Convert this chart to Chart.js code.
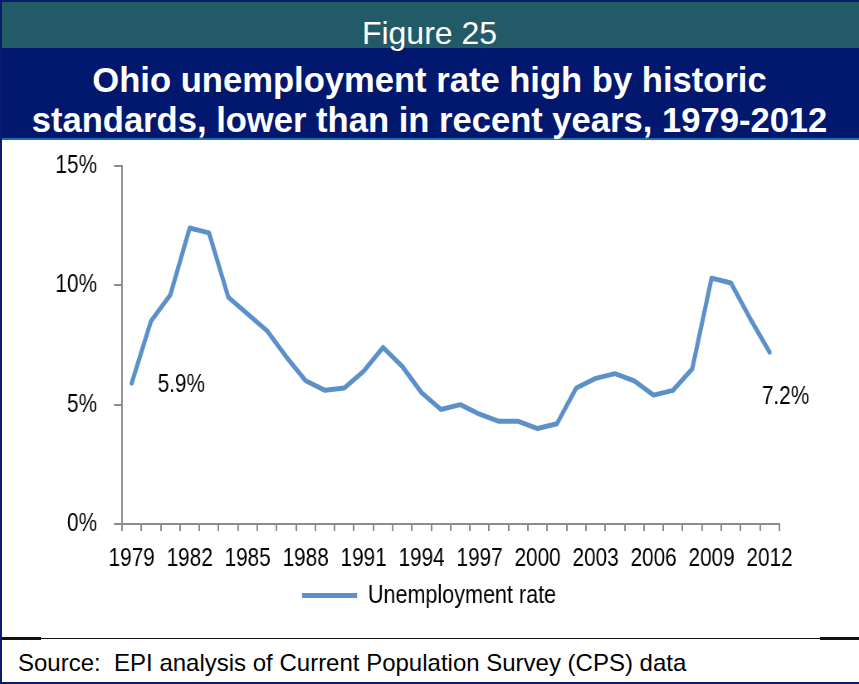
<!DOCTYPE html>
<html>
<head>
<meta charset="utf-8">
<script src="https://cdn.jsdelivr.net/npm/chart.js@4"></script>
<style>
  body { margin: 0; background: #fff; }
  #page { position: relative; width: 859px; height: 684px; overflow: hidden; background: #fff; font-family: 'Liberation Sans', Arial, sans-serif; }
  .band { position: absolute; left: 0; width: 859px; }
  #topLine { top: 0; height: 2px; background: #0b1c6e; }
  #teal { top: 2px; height: 46px; background: #225a67; }
  #navy { top: 48px; height: 90px; background: #02186f; }
  #blueLine { top: 138px; height: 2px; background: #1f6cb2; }
  #leftLine { position: absolute; left: 0; top: 0; width: 2px; height: 684px; background: #0b1c6e; }
  #bottomLine { top: 682px; height: 2px; background: #0b1c6e; }
  #sep { top: 638px; height: 1px; background: #111; }
  #sepL { position: absolute; left: 0; top: 637px; width: 41px; height: 3px; background: #111; }
  #sepR { position: absolute; left: 820px; top: 637px; width: 39px; height: 3px; background: #111; }
  .txt { position: absolute; left: 0; width: 859px; text-align: center; color: #fff; white-space: nowrap; }
  #fig { top: 17px; font-size: 32px; line-height: 32px; }
  #t1 { top: 63px; font-size: 34.6px; line-height: 34.6px; font-weight: bold; }
  #t2 { top: 103px; font-size: 34.6px; line-height: 34.6px; font-weight: bold; }
  #source { position: absolute; left: 18px; top: 651px; font-size: 24px; line-height: 24px; color: #000; white-space: nowrap; }
  /* the chart in the original is squeezed sideways, so the canvas is drawn wider and scaled back */
  #chartBox { position: absolute; left: 0; top: 140px; height: 496px; transform-origin: 0 0; }
</style>
</head>
<body>
<div id="page">
  <div class="band" id="topLine"></div>
  <div class="band" id="teal"></div>
  <div class="band" id="navy"></div>
  <div class="band" id="blueLine"></div>
  <div class="txt" id="fig">Figure 25</div>
  <div class="txt" id="t1">Ohio unemployment rate high by historic</div>
  <div class="txt" id="t2">standards, lower than in recent years, 1979-2012</div>
  <div id="chartBox"><canvas id="lineChart"></canvas></div>
  <div class="band" id="sep"></div>
  <div id="sepL"></div>
  <div id="sepR"></div>
  <div id="source">Source:&nbsp; EPI analysis of Current Population Survey (CPS) data</div>
  <div class="band" id="bottomLine"></div>
  <div id="leftLine"></div>
</div>
<script>
const years = ['1979', '1980', '1981', '1982', '1983', '1984', '1985', '1986', '1987', '1988', '1989', '1990',
    '1991', '1992', '1993', '1994', '1995', '1996', '1997', '1998', '1999', '2000', '2001', '2002',
    '2003', '2004', '2005', '2006', '2007', '2008', '2009', '2010', '2011', '2012'];
const rate = [5.9, 8.5, 9.6, 12.4, 12.2, 9.5, 8.8, 8.1, 7.0, 6.0, 5.6, 5.7,
    6.4, 7.4, 6.6, 5.5, 4.8, 5.0, 4.6, 4.3, 4.3, 4.0, 4.2, 5.7,
    6.1, 6.3, 6.0, 5.4, 5.6, 6.5, 10.3, 10.1, 8.6, 7.2];
const shownYears = ['1979', '1982', '1985', '1988', '1991', '1994', '1997', '2000', '2003', '2006', '2009', '2012'];
const yTicks = [0, 5, 10, 15];

const squeeze = 0.83;
const canvasW = 859 / squeeze;
const canvasH = 496;
const font = "'Liberation Sans', Arial, sans-serif";
const axisGray = '#8c8c8c';

const box = document.getElementById('chartBox');
box.style.width = canvasW + 'px';
box.style.transform = 'scaleX(' + squeeze + ')';
const canvas = document.getElementById('lineChart');
canvas.width = canvasW;
canvas.height = canvasH;

//writes the first and last values next to the line
const endLabels = {
    id: 'endLabels',
    afterDatasetsDraw(chart) {
        const pts = chart.getDatasetMeta(0).data;
        const last = pts.length - 1;
        const ctx = chart.ctx;
        ctx.save();
        ctx.font = '25px ' + font;
        ctx.fillStyle = '#000';
        ctx.textBaseline = 'middle';
        ctx.textAlign = 'left';
        ctx.fillText(rate[0].toFixed(1) + '%', pts[0].x + 26 / squeeze, pts[0].y + 2);
        ctx.textAlign = 'center';
        ctx.fillText(rate[last].toFixed(1) + '%', pts[last].x + 16 / squeeze, pts[last].y + 45);
        ctx.restore();
    }
};

new Chart(canvas, {
    type: 'line',
    data: {
        labels: years,
        datasets: [{
            label: 'Unemployment rate',
            data: rate,
            borderColor: '#5b90c8',
            backgroundColor: '#5b90c8',
            borderWidth: 5,
            borderCapStyle: 'round',
            borderJoinStyle: 'round',
            pointRadius: 0,
            tension: 0,
            fill: false
        }]
    },
    options: {
        responsive: false,
        animation: false,
        layout: {
            padding: { top: 26, right: 0, left: 0, bottom: 17.5 }
        },
        scales: {
            x: {
                offset: true,
                afterFit: scale => {
                    scale.height = 48.5;
                    scale.paddingLeft = 0;
                    scale.paddingRight = 0;
                },
                border: { display: true, color: axisGray, width: 2 },
                grid: { offset: true, drawOnChartArea: false, drawTicks: true, tickLength: 7, color: axisGray, lineWidth: 2 },
                ticks: {
                    autoSkip: false,
                    maxRotation: 0,
                    padding: 13,
                    color: '#000',
                    font: { family: font, size: 25 },
                    callback: function (value, index) {
                        const y = years[index];
                        return shownYears.includes(y) ? y : '';
                    }
                }
            },
            y: {
                min: yTicks[0],
                max: yTicks[yTicks.length - 1],
                afterFit: scale => {
                    scale.width = 122 / squeeze;
                    scale.paddingTop = 0;
                    scale.paddingBottom = 0;
                },
                afterBuildTicks: scale => { scale.ticks = yTicks.map(v => ({ value: v })); },
                border: { display: true, color: axisGray, width: 2 },
                grid: { drawOnChartArea: false, drawTicks: true, tickLength: 8 / squeeze, color: axisGray, lineWidth: 2 },
                ticks: {
                    padding: 17 / squeeze,
                    color: '#000',
                    font: { family: font, size: 25 },
                    callback: v => v + '%'
                }
            },
            //empty right-hand spacer so the legend stays centred on the whole figure
            spacer: {
                type: 'linear',
                position: 'right',
                afterFit: scale => {
                    scale.width = canvasW - 780 / squeeze;
                    scale.paddingTop = 0;
                    scale.paddingBottom = 0;
                },
                border: { display: false },
                grid: { display: false },
                ticks: { display: false }
            }
        },
        plugins: {
            tooltip: { enabled: false },
            legend: {
                position: 'bottom',
                labels: {
                    usePointStyle: true,
                    pointStyle: 'line',
                    pointStyleWidth: 55 / squeeze,
                    padding: 10,
                    color: '#000',
                    font: { family: font, size: 26 }
                }
            }
        }
    },
    plugins: [endLabels]
});
</script>
</body>
</html>
